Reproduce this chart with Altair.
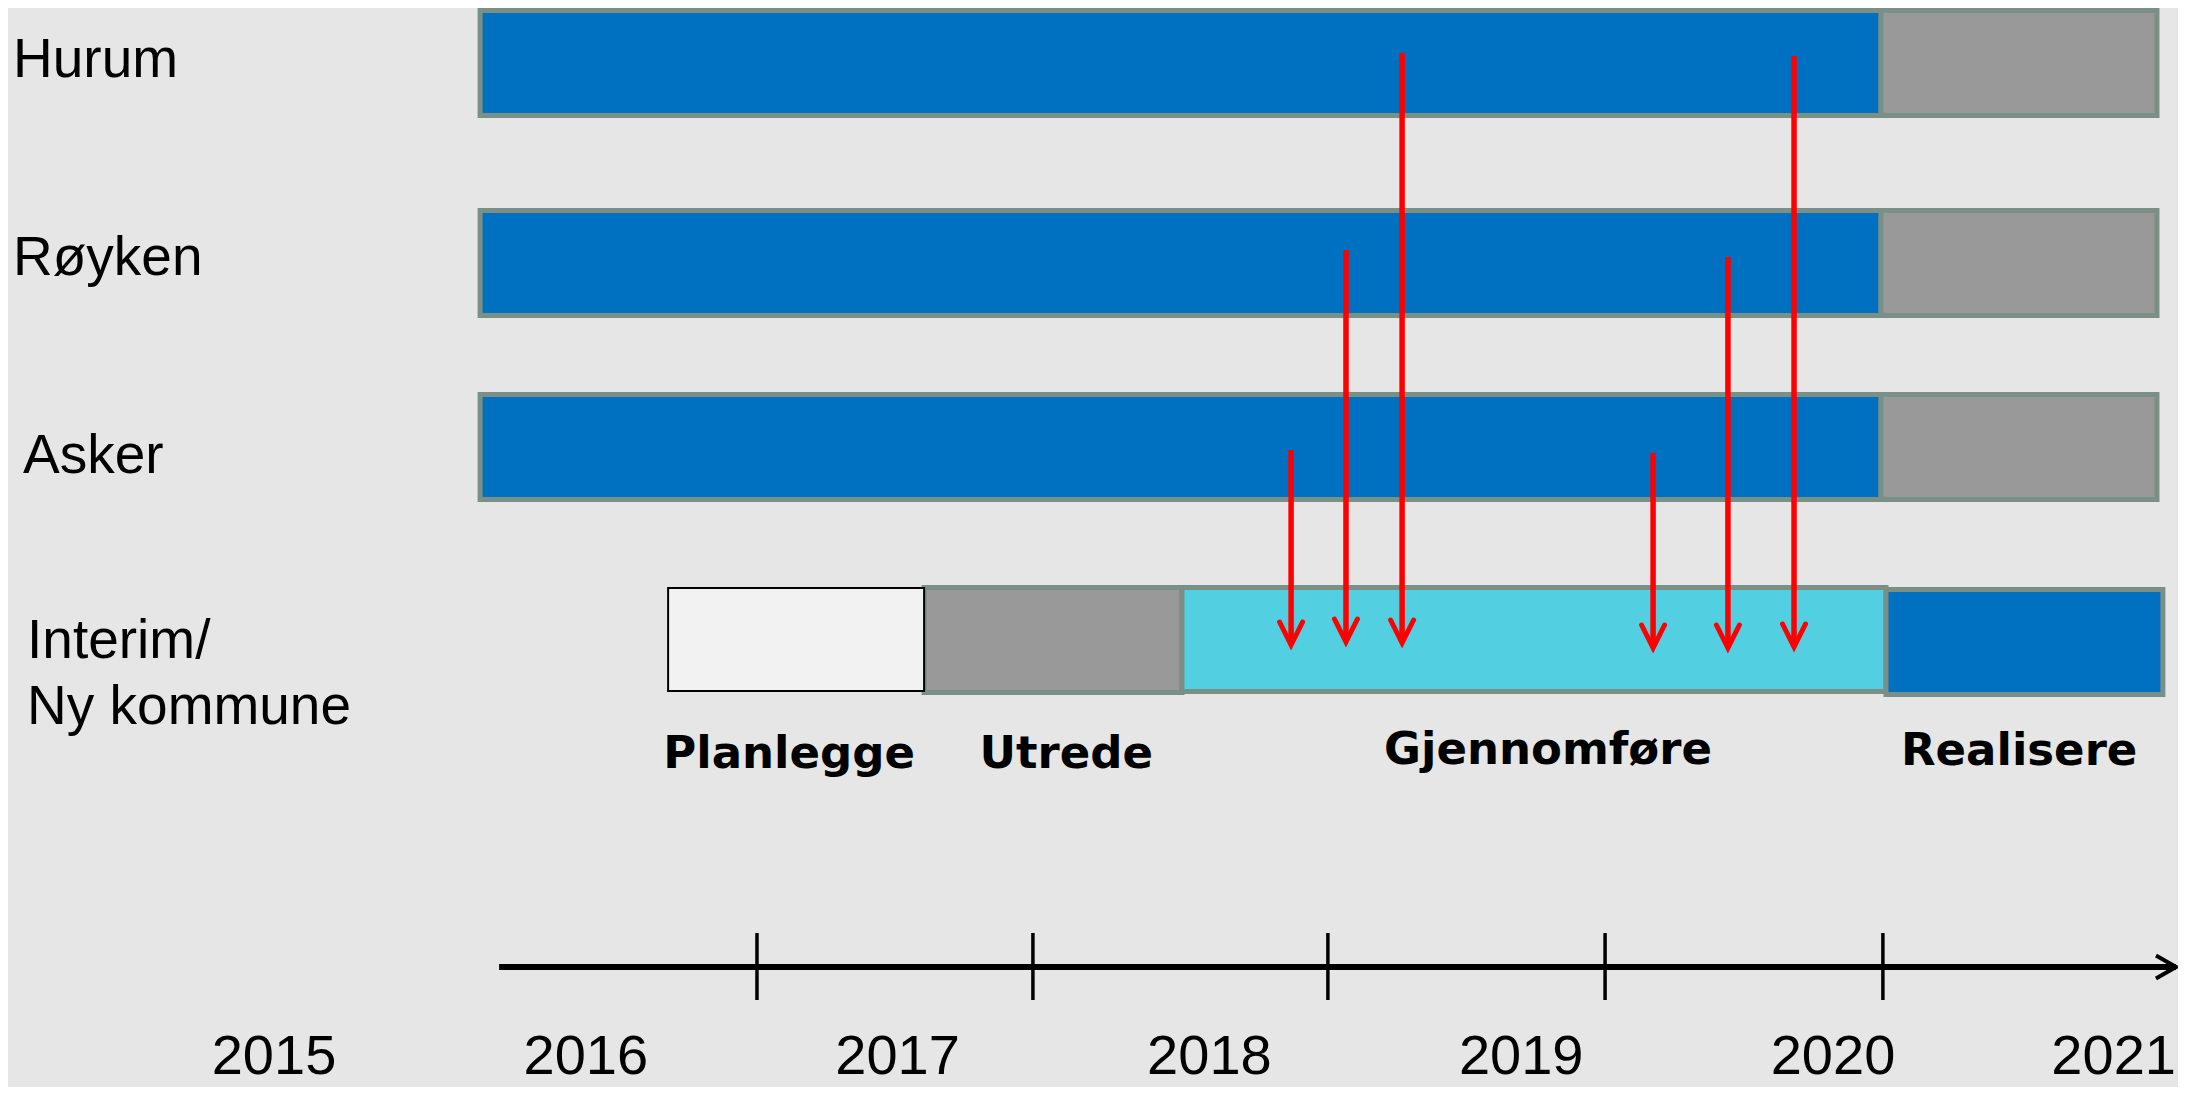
import altair as alt
import pandas as pd

# ---------------- data ----------------
# horizontal unit: years ; vertical unit: layout rows measured on the reference
municipalities = ["Hurum", "Røyken", "Asker"]
muni_top = [10.5, 210.5, 394.5]
muni_bottom = [115.5, 315.5, 499.5]
muni_phase_names = ["Egen kommune", "Overgang"]
muni_phase_start = [2015.661, 2020.154]
muni_phase_end = [2020.154, 2021.039]
muni_phase_colors = ["#0070c0", "#999999"]

phase_names = ["Planlegge", "Utrede", "Gjennomføre", "Realisere"]
phase_start = [2016.264, 2017.085, 2017.912, 2020.170]
phase_end = [2017.085, 2017.912, 2020.170, 2021.058]
phase_top = [588.0, 587.5, 587.5, 589.5]
phase_bottom = [691.0, 692.5, 691.5, 694.5]
phase_colors = ["#f2f2f2", "#999999", "#52cfe0", "#0070c0"]
phase_label_x = [2016.652, 2017.541, 2019.086, 2020.597]
phase_label_y = [768, 768, 764, 765]

row_labels = ["Hurum", "Røyken", "Asker", "Interim/", "Ny kommune"]
row_label_x = [2014.163, 2014.163, 2014.195, 2014.208, 2014.208]
row_label_y = [76.7, 275, 473, 658, 724]

arrow_x = [2018.262, 2018.438, 2018.618, 2019.423, 2019.663, 2019.875]
arrow_from = [450, 250, 53, 453, 257, 56]
arrow_to = [645, 642, 643, 648, 648, 647]

timeline_start = 2015.722
timeline_end = 2021.100
timeline_y = 967
tick_years = [2016.549, 2017.434, 2018.380, 2019.269, 2020.160]
tick_top = 933
tick_bottom = 1000

year_labels = [2015, 2016, 2017, 2018, 2019, 2020, 2021]
year_label_pos = [2015.0, 2016.0, 2017.0, 2018.0, 2019.0, 2020.0, 2020.9]
year_label_y = 1074

# ---------------- tables ----------------
muni_rows = []
for name, t, b in zip(municipalities, muni_top, muni_bottom):
    for pn, s, e, c in zip(muni_phase_names, muni_phase_start, muni_phase_end, muni_phase_colors):
        muni_rows.append(dict(kommune=name, fase=pn, start=s, end=e, top=t, bottom=b, color=c))
muni_df = pd.DataFrame(muni_rows)

phase_df = pd.DataFrame(dict(fase=phase_names, start=phase_start, end=phase_end,
                             top=phase_top, bottom=phase_bottom, color=phase_colors,
                             lx=phase_label_x, ly=phase_label_y))
row_df = pd.DataFrame(dict(label=row_labels, x=row_label_x, y=row_label_y))
arrow_df = pd.DataFrame(dict(x=arrow_x, y1=arrow_from, y2=arrow_to))
tick_df = pd.DataFrame(dict(x=tick_years, y1=[tick_top] * len(tick_years),
                            y2=[tick_bottom] * len(tick_years)))
line_df = pd.DataFrame(dict(x1=[timeline_start], x2=[timeline_end], y=[timeline_y]))
year_df = pd.DataFrame(dict(pos=year_label_pos, label=[str(y) for y in year_labels],
                            y=[year_label_y] * len(year_labels)))

# ---------------- scales ----------------
xs = alt.Scale(domain=[2014.14689, 2021.10648], nice=False, zero=False)
ys = alt.Scale(domain=[1087, 8], nice=False, zero=False)


def X(f):
    return alt.X(f, type="quantitative", scale=xs, axis=None)


def Y(f):
    return alt.Y(f, type="quantitative", scale=ys, axis=None)


BORDER = "#7a8f85"

muni_bars = alt.Chart(muni_df).mark_rect(stroke=BORDER, strokeWidth=5).encode(
    x=X("start"), x2="end", y=Y("top"), y2="bottom",
    color=alt.Color("color:N", scale=None),
)

interim_main = alt.Chart(phase_df).transform_filter(
    alt.datum.fase != "Planlegge"
).mark_rect(stroke=BORDER, strokeWidth=5).encode(
    x=X("start"), x2="end", y=Y("top"), y2="bottom",
    color=alt.Color("color:N", scale=None),
)

interim_plan = alt.Chart(phase_df).transform_filter(
    alt.datum.fase == "Planlegge"
).mark_rect(stroke="#000000", strokeWidth=2).encode(
    x=X("start"), x2="end", y=Y("top"), y2="bottom",
    color=alt.Color("color:N", scale=None),
)

phase_text = alt.Chart(phase_df).mark_text(
    font="DejaVu Sans", fontWeight="bold", fontSize=45, align="center",
    baseline="alphabetic", color="#000000",
).encode(x=X("lx"), y=Y("ly"), text="fase:N")

row_text = alt.Chart(row_df).mark_text(
    font="Liberation Sans", fontSize=55, align="left", baseline="alphabetic", color="#000000",
).encode(x=X("x"), y=Y("y"), text="label:N")

arrow_lines = alt.Chart(arrow_df).mark_rule(color="#ff0000", strokeWidth=5.5).encode(
    x=X("x"), y=Y("y1"), y2="y2"
)
arrow_heads = alt.Chart(arrow_df).mark_point(
    shape="M -0.5 -1 L 0 0 L 0.5 -1", size=2116, filled=False, stroke="#ff0000",
    strokeWidth=5, strokeCap="round", opacity=1,
).encode(x=X("x"), y=Y("y2"))

timeline = alt.Chart(line_df).mark_rule(color="#000000", strokeWidth=6).encode(
    x=X("x1"), x2="x2", y=Y("y")
)
timeline_head = alt.Chart(line_df).mark_point(
    shape="M -0.87 -0.5 L 0 0 L -0.87 0.5", size=2116, filled=False, stroke="#000000",
    strokeWidth=4, opacity=1,
).encode(x=X("x2"), y=Y("y"))
ticks = alt.Chart(tick_df).mark_rule(color="#000000", strokeWidth=3.5).encode(
    x=X("x"), y=Y("y1"), y2="y2"
)

year_text = alt.Chart(year_df).mark_text(
    font="Liberation Sans", fontSize=56, align="center", baseline="alphabetic", color="#000000",
).encode(x=X("pos"), y=Y("y"), text="label:N")

chart = alt.layer(
    muni_bars, interim_main, interim_plan, arrow_lines, arrow_heads,
    phase_text, row_text, timeline, timeline_head, ticks, year_text,
).properties(
    width=2170, height=1079,
    autosize=alt.AutoSizeParams(type="none"),
    padding=0,
    background="#e6e6e6",
).configure_view(stroke=None)

chart.save("out.html", embed_options={"renderer": "svg", "actions": False})
